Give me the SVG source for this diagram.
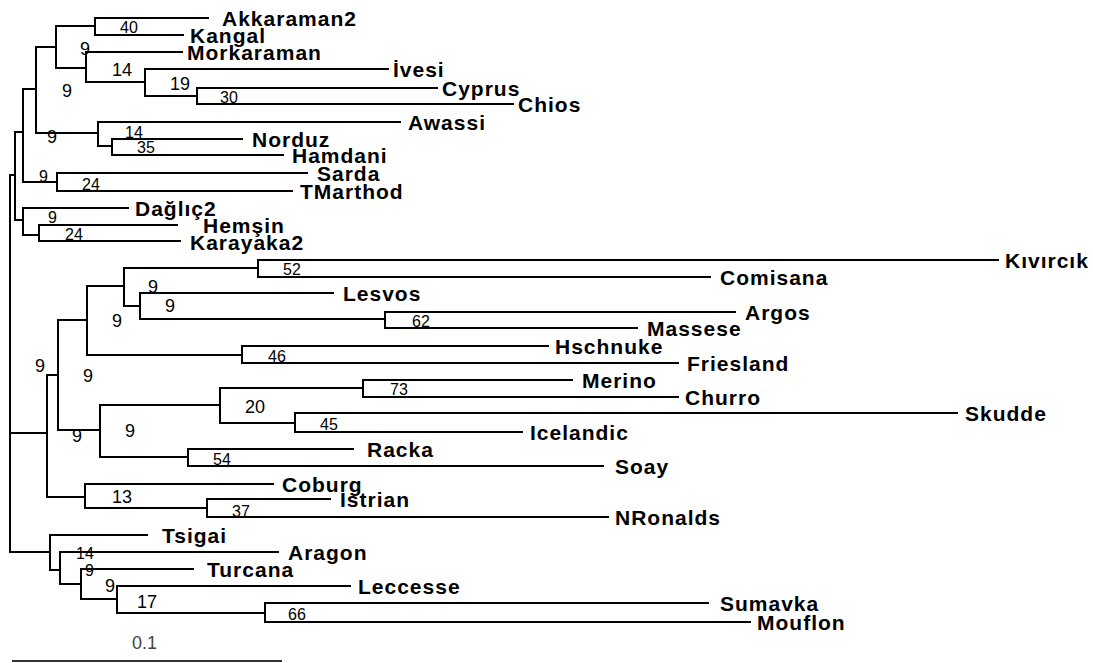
<svg xmlns="http://www.w3.org/2000/svg" width="1093" height="663" viewBox="0 0 1093 663">
  <style>
    .br { stroke: #000; stroke-width: 2; fill: none; stroke-linecap: square; }
    .lbl { font-family: "Liberation Sans", Arial, sans-serif; font-weight: bold; font-size: 21px; letter-spacing: 1px; fill: #000; }
    .bs { font-family: "Liberation Sans", Arial, sans-serif; font-size: 18px; fill: #000; }
    .bq { font-family: "Liberation Sans", Arial, sans-serif; font-size: 16px; fill: #000; }
    .scale { stroke: #333; stroke-width: 2; }
    .scalelbl { font-family: "Liberation Sans", Arial, sans-serif; font-size: 18px; fill: #444; }
  </style>
  <rect width="1093" height="663" fill="#fff"/>

  <!-- branches: vertical brackets and horizontal edges -->
  <g id="connectors" class="br">
    <!-- root and first-level splits -->
    <path d="M10 175 V552 M10 175 H15 M10 433 H47 M10 552 H50"/>
    <path d="M15 132 V220 M15 132 H23 M15 220 H23"/>
    <path d="M23 89 V182 M23 89 H36 M23 182 H57"/>
    <path d="M36 47 V133 M36 47 H56 M36 133 H98"/>
    <path d="M56 26 V68 M56 26 H95 M56 68 H86"/>
    <path d="M95 18 V35 M95 18 H208 M95 35 H183"/>
    <path d="M86 52 V82 M86 52 H182 M86 82 H145"/>
    <path d="M145 69 V96 M145 69 H388 M145 96 H197"/>
    <path d="M197 88 V104 M197 88 H437 M197 104 H513"/>
    <path d="M98 122 V146 M98 122 H400 M98 146 H112"/>
    <path d="M112 139 V155 M112 139 H242 M112 155 H283"/>
    <path d="M57 173 V191 M57 173 H307 M57 191 H292"/>
    <path d="M23 208 V235 M23 208 H128 M23 235 H39"/>
    <path d="M39 225 V241 M39 225 H177 M39 241 H180"/>
    <!-- middle clade -->
    <path d="M47 375 V497 M47 375 H58 M47 497 H85"/>
    <path d="M58 320 V430 M58 320 H87 M58 430 H100"/>
    <path d="M87 286 V355 M87 286 H124 M87 355 H242"/>
    <path d="M124 268 V306 M124 268 H258 M124 306 H140"/>
    <path d="M258 260 V277 M258 260 H998 M258 277 H710"/>
    <path d="M140 293 V319 M140 293 H333 M140 319 H385"/>
    <path d="M385 312 V328 M385 312 H735 M385 328 H637"/>
    <path d="M242 346 V363 M242 346 H548 M242 363 H678"/>
    <path d="M100 405 V457 M100 405 H220 M100 457 H188"/>
    <path d="M220 388 V423 M220 388 H363 M220 423 H295"/>
    <path d="M363 380 V397 M363 380 H572 M363 397 H678"/>
    <path d="M295 413 V432 M295 413 H957 M295 432 H522"/>
    <path d="M188 449 V466 M188 449 H353 M188 466 H603"/>
    <path d="M85 484 V508 M85 484 H273 M85 508 H207"/>
    <path d="M207 499 V517 M207 499 H330 M207 517 H608"/>
    <!-- lower clade -->
    <path d="M50 535 V570 M50 535 H147 M50 570 H60"/>
    <path d="M60 552 V584 M60 552 H278 M60 584 H81"/>
    <path d="M81 569 V599 M81 569 H193 M81 599 H117"/>
    <path d="M117 586 V613 M117 586 H350 M117 613 H265"/>
    <path d="M265 603 V622 M265 603 H708 M265 622 H750"/>
  </g>

  <!-- support values at internal nodes -->
  <g id="support">
    <text class="bq" x="120" y="33">40</text>
    <text class="bs" x="80" y="55">9</text>
    <text class="bs" x="112" y="76">14</text>
    <text class="bs" x="170" y="90">19</text>
    <text class="bq" x="220" y="103">30</text>
    <text class="bs" x="62" y="97">9</text>
    <text class="bs" x="47" y="143">9</text>
    <text class="bq" x="125" y="138">14</text>
    <text class="bq" x="137" y="153">35</text>
    <text class="bq" x="39" y="182">9</text>
    <text class="bq" x="82" y="190">24</text>
    <text class="bq" x="48" y="223">9</text>
    <text class="bq" x="65" y="240">24</text>
    <text class="bq" x="283" y="275">52</text>
    <text class="bs" x="148" y="293">9</text>
    <text class="bs" x="165" y="312">9</text>
    <text class="bs" x="112" y="327">9</text>
    <text class="bq" x="412" y="327">62</text>
    <text class="bq" x="268" y="362">46</text>
    <text class="bs" x="35" y="372">9</text>
    <text class="bs" x="83" y="382">9</text>
    <text class="bq" x="390" y="395">73</text>
    <text class="bs" x="245" y="413">20</text>
    <text class="bq" x="320" y="430">45</text>
    <text class="bs" x="125" y="437">9</text>
    <text class="bs" x="72" y="442">9</text>
    <text class="bq" x="213" y="465">54</text>
    <text class="bs" x="112" y="503">13</text>
    <text class="bq" x="232" y="517">37</text>
    <text class="bq" x="76" y="559">14</text>
    <text class="bq" x="85" y="576">9</text>
    <text class="bs" x="105" y="592">9</text>
    <text class="bs" x="137" y="608">17</text>
    <text class="bq" x="288" y="620">66</text>
  </g>

  <!-- leaf labels -->
  <g id="n-Akkaraman2"><text class="lbl" x="222" y="25.5">Akkaraman2</text></g>
  <g id="n-Kangal"><text class="lbl" x="190" y="42.5">Kangal</text></g>
  <g id="n-Morkaraman"><text class="lbl" x="187" y="59.5">Morkaraman</text></g>
  <g id="n-Ivesi"><text class="lbl" x="393" y="76.5">İvesi</text></g>
  <g id="n-Cyprus"><text class="lbl" x="442" y="95.5">Cyprus</text></g>
  <g id="n-Chios"><text class="lbl" x="518" y="111.5">Chios</text></g>
  <g id="n-Awassi"><text class="lbl" x="408" y="129.5">Awassi</text></g>
  <g id="n-Norduz"><text class="lbl" x="252" y="146.5">Norduz</text></g>
  <g id="n-Hamdani"><text class="lbl" x="292" y="162.5">Hamdani</text></g>
  <g id="n-Sarda"><text class="lbl" x="317" y="180.5">Sarda</text></g>
  <g id="n-TMarthod"><text class="lbl" x="300" y="198.5">TMarthod</text></g>
  <g id="n-Daglic2"><text class="lbl" x="135" y="215.5">Dağlıç2</text></g>
  <g id="n-Hemsin"><text class="lbl" x="203" y="232.5">Hemşin</text></g>
  <g id="n-Karayaka2"><text class="lbl" x="190" y="249.5">Karayaka2</text></g>
  <g id="n-Kivircik"><text class="lbl" x="1005" y="267.5">Kıvırcık</text></g>
  <g id="n-Comisana"><text class="lbl" x="720" y="284.5">Comisana</text></g>
  <g id="n-Lesvos"><text class="lbl" x="343" y="300.5">Lesvos</text></g>
  <g id="n-Argos"><text class="lbl" x="745" y="319.5">Argos</text></g>
  <g id="n-Massese"><text class="lbl" x="647" y="335.5">Massese</text></g>
  <g id="n-Hschnuke"><text class="lbl" x="555" y="353.5">Hschnuke</text></g>
  <g id="n-Friesland"><text class="lbl" x="687" y="370.5">Friesland</text></g>
  <g id="n-Merino"><text class="lbl" x="582" y="387.5">Merino</text></g>
  <g id="n-Churro"><text class="lbl" x="685" y="404.5">Churro</text></g>
  <g id="n-Skudde"><text class="lbl" x="965" y="420.5">Skudde</text></g>
  <g id="n-Icelandic"><text class="lbl" x="530" y="439.5">Icelandic</text></g>
  <g id="n-Racka"><text class="lbl" x="367" y="456.5">Racka</text></g>
  <g id="n-Soay"><text class="lbl" x="615" y="473.5">Soay</text></g>
  <g id="n-Coburg"><text class="lbl" x="282" y="491.5">Coburg</text></g>
  <g id="n-Istrian"><text class="lbl" x="340" y="506.5">Istrian</text></g>
  <g id="n-NRonalds"><text class="lbl" x="615" y="524.5">NRonalds</text></g>
  <g id="n-Tsigai"><text class="lbl" x="162" y="542.5">Tsigai</text></g>
  <g id="n-Aragon"><text class="lbl" x="288" y="559.5">Aragon</text></g>
  <g id="n-Turcana"><text class="lbl" x="207" y="576.5">Turcana</text></g>
  <g id="n-Leccesse"><text class="lbl" x="358" y="593.5">Leccesse</text></g>
  <g id="n-Sumavka"><text class="lbl" x="720" y="610.5">Sumavka</text></g>
  <g id="n-Mouflon"><text class="lbl" x="757" y="629.5">Mouflon</text></g>

  <!-- scale bar -->
  <g id="scale-bar">
    <text class="scalelbl" x="132" y="649">0.1</text>
    <line class="scale" x1="12" y1="661" x2="282" y2="661"/>
  </g>
</svg>
